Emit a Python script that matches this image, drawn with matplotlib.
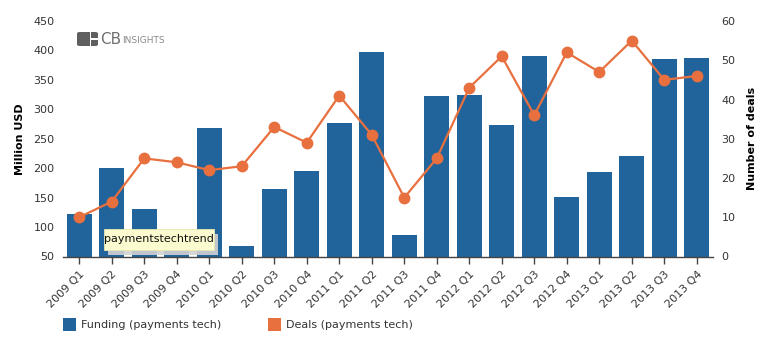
import matplotlib
matplotlib.use("Agg")
import matplotlib.pyplot as plt
from matplotlib.patches import Rectangle, FancyBboxPatch

quarters = ["2009 Q1", "2009 Q2", "2009 Q3", "2009 Q4",
            "2010 Q1", "2010 Q2", "2010 Q3", "2010 Q4",
            "2011 Q1", "2011 Q2", "2011 Q3", "2011 Q4",
            "2012 Q1", "2012 Q2", "2012 Q3", "2012 Q4",
            "2013 Q1", "2013 Q2", "2013 Q3", "2013 Q4"]
funding = [122, 200, 130, 90, 268, 67, 164, 196, 276, 398,
           86, 323, 324, 273, 391, 151, 193, 221, 386, 388]
deals = [10, 14, 25, 24, 22, 23, 33, 29, 41, 31,
         15, 25, 43, 51, 36, 52, 47, 55, 45, 46]
left_ticks = [50, 100, 150, 200, 250, 300, 350, 400, 450]
right_ticks = [0, 10, 20, 30, 40, 50, 60]

BLUE = "#21649b"
ORANGE = "#e8703f"
TEXT = "#333333"

plt.rcParams["font.family"] = ["DejaVu Sans"]

W, H = 769, 344
fig = plt.figure(figsize=(W / 100, H / 100), dpi=100)
ax = fig.add_axes([63 / W, 1 - 256.5 / H, 650 / W, 235.5 / H])
ax2 = ax.twinx()

x = list(range(len(quarters)))
ax.bar(x, funding, width=0.78, bottom=0, color=BLUE, zorder=2)
ax.set_ylim(50, 450)
ax.set_xlim(-0.5, len(quarters) - 0.5)

ax2.plot(x, deals, color=ORANGE, lw=1.6, marker="o", ms=7.5,
         markeredgecolor=ORANGE, zorder=3)
ax2.set_ylim(0, 60)

for a in (ax, ax2):
    for s in a.spines.values():
        s.set_visible(False)
ax.spines["bottom"].set_visible(True)
ax.spines["bottom"].set_color("#444444")
ax.spines["bottom"].set_linewidth(1.0)

ax.set_yticks(left_ticks)
ax.tick_params(axis="y", length=0, labelsize=8, labelcolor=TEXT, pad=6)
ax2.set_yticks(right_ticks)
ax2.tick_params(axis="y", length=0, labelsize=8, labelcolor=TEXT, pad=6)

ax.set_xticks(x)
ax.set_xticklabels(quarters, rotation=45, ha="right", rotation_mode="anchor",
                   fontsize=8, color=TEXT)
ax.tick_params(axis="x", length=5, width=1, color="#444444", pad=4)

ax.set_ylabel("Million USD", fontsize=8, fontweight="bold", color="black",
              labelpad=6)
ax2.set_ylabel("Number of deals", fontsize=8, fontweight="bold",
               color="black", labelpad=8)
ax2.set_zorder(ax.get_zorder() + 1)
ax2.patch.set_visible(False)

# tooltip label with drop shadow
shadow = Rectangle((108 / W, 1 - 255 / H), 110 / W, 21 / H,
                   transform=fig.transFigure, facecolor="#d2d2d2",
                   edgecolor="none", alpha=0.9, zorder=10)
fig.patches.append(shadow)
tip = Rectangle((104 / W, 1 - 250 / H), 110 / W, 21 / H,
                transform=fig.transFigure, facecolor="#fbfbcf",
                edgecolor="#e6e6b0", lw=0.6, zorder=11)
fig.patches.append(tip)
fig.text(159 / W, 1 - 239.5 / H, "paymentstechtrend", fontsize=8,
         ha="center", va="center", color="#111111", zorder=12)

# logo
icon = FancyBboxPatch((77 / W, 1 - 46 / H), 21 / W, 14 / H,
                      boxstyle="round,pad=0,rounding_size=0.004",
                      transform=fig.transFigure, facecolor="#5f5f5f",
                      edgecolor="none", zorder=5)
fig.patches.append(icon)
fig.patches.append(Rectangle((89.5 / W, 1 - 46 / H), 1.5 / W, 14 / H,
                             transform=fig.transFigure, facecolor="white",
                             edgecolor="none", zorder=6))
fig.patches.append(Rectangle((89.5 / W, 1 - 39.5 / H), 9 / W, 1.5 / H,
                             transform=fig.transFigure, facecolor="white",
                             edgecolor="none", zorder=6))
fig.text(100 / W, 1 - 39.5 / H, "CB", fontsize=11, color="#707070",
         ha="left", va="center")
fig.text(122 / W, 1 - 40.5 / H, "INSIGHTS", fontsize=6.5, color="#8a8a8a",
         ha="left", va="center")

# legend
fig.patches.append(Rectangle((63 / W, 1 - 331 / H), 13 / W, 13 / H,
                             transform=fig.transFigure, facecolor=BLUE,
                             edgecolor="none"))
fig.text(81 / W, 1 - 324.5 / H, "Funding (payments tech)", fontsize=8,
         color=TEXT, ha="left", va="center")
fig.patches.append(Rectangle((268 / W, 1 - 331 / H), 13 / W, 13 / H,
                             transform=fig.transFigure, facecolor=ORANGE,
                             edgecolor="none"))
fig.text(286 / W, 1 - 324.5 / H, "Deals (payments tech)", fontsize=8,
         color=TEXT, ha="left", va="center")

fig.savefig("out.png", dpi=100)
